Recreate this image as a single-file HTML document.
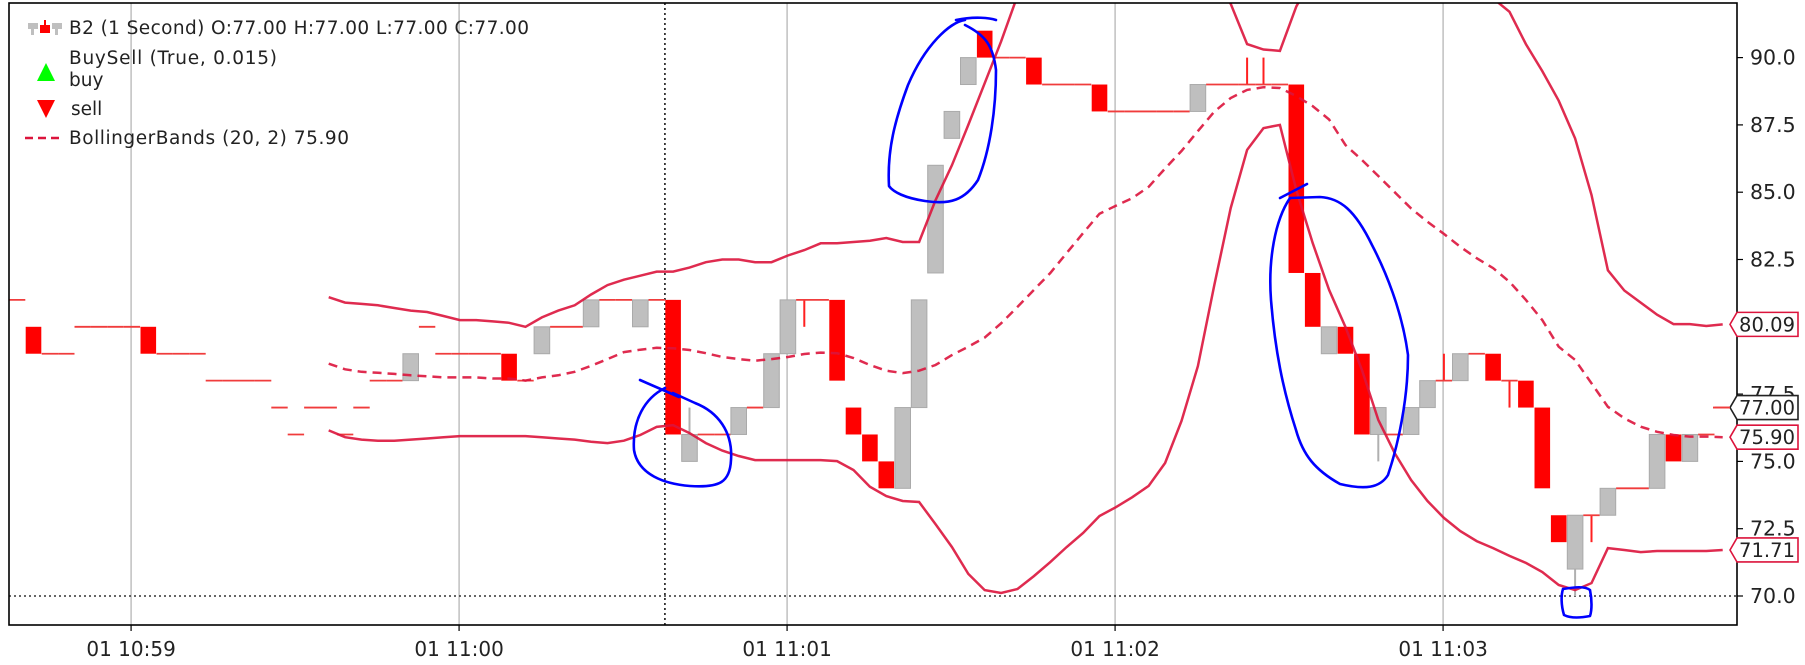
<!DOCTYPE html>
<html><head><meta charset="utf-8">
<style>
html,body{margin:0;padding:0;background:#fff;}
svg{display:block;font-family:"DejaVu Sans","Liberation Sans",sans-serif;}
</style></head>
<body>
<svg id="chart" width="1805" height="665" viewBox="0 0 1805 665" xmlns="http://www.w3.org/2000/svg">
  <defs><clipPath id="plotclip"><rect x="9" y="3" width="1728" height="622"/></clipPath></defs>
  <rect x="0" y="0" width="1805" height="665" fill="#fff"/>
  <g id="grid"></g>
  <g id="marks" clip-path="url(#plotclip)"></g>
  <g id="annot" fill="none" stroke="#0000ff" stroke-width="2.6" stroke-linecap="round" stroke-linejoin="round">
    <path d="M640,380 L679,397 M665,388 C645,398 632,420 634,450 C638,475 665,484 690,486 C720,488 730,482 731,460 C733,432 718,412 695,403 L673,393"/>
    <path d="M956,20 C975,16 990,18 996,20 M965,25 C985,35 993,45 996,70 C996,110 990,150 978,180 C965,200 950,205 925,201 C905,198 893,192 889,186 C887,150 895,120 908,85 C925,45 950,22 965,20"/>
    <path d="M1280,198 L1307,184 M1290,198 C1275,220 1268,260 1271,300 C1275,350 1283,390 1296,430 C1303,455 1315,470 1340,484 C1365,490 1380,488 1388,475 C1398,445 1408,400 1408,355 C1402,310 1385,270 1372,245 C1355,210 1340,198 1320,197 L1290,198"/>
    <path d="M1563,589 C1575,587 1585,586 1590,590 C1592,600 1592,610 1590,616 C1580,618 1570,618 1564,615 C1561,605 1561,595 1563,589"/>
  </g>
  <g id="axes"></g>
  <g id="legend">
    <g>
      <rect x="28" y="23" width="10" height="6" fill="#bfbfbf"/><rect x="31" y="29" width="3" height="6" fill="#bfbfbf"/>
      <rect x="40" y="25" width="10" height="8" fill="#ff0000"/><rect x="44" y="20" width="2" height="5" fill="#ff0000"/>
      <rect x="52" y="23" width="10" height="6" fill="#bfbfbf"/><rect x="55" y="29" width="3" height="6" fill="#bfbfbf"/>
      <text x="69" y="34" font-size="18.5" fill="#222" textLength="460">B2 (1 Second) O:77.00 H:77.00 L:77.00 C:77.00</text>
    </g>
    <g>
      <text x="69" y="64" font-size="18.5" fill="#222" textLength="208">BuySell (True, 0.015)</text>
    </g>
    <g>
      <polygon points="37,81 46,63 55,81" fill="#00ff00"/>
      <text x="69" y="86" font-size="18.5" fill="#222">buy</text>
    </g>
    <g>
      <polygon points="37,100 55,100 46,118" fill="#ff0000"/>
      <text x="71" y="115" font-size="18.5" fill="#222">sell</text>
    </g>
    <g>
      <line x1="25" y1="138" x2="62" y2="138" stroke="#dc143c" stroke-width="2.5" stroke-dasharray="8,5"/>
      <text x="69" y="144" font-size="18.5" fill="#222" textLength="280">BollingerBands (20, 2) 75.90</text>
    </g>
  </g>
</svg>
<script>
// ---- data ----
const opens  = [81,80,79,79,80,80,80,80,80,79,79,79,78,78,78,78,77,76,77,77,76,77,78,78,78,80,79,79,79,79,79,78,79,80,80,80,81,81,80,81,81,75,76,76,76,77,77,79,81,81,81,77,76,75,74,77,82,87,89,91,90,90,90,89,89,89,89,88,88,88,88,88,88,89,89,89,89,89,89,82,79,80,79,76,76,76,77,78,78,79,79,78,78,77,73,71,73,73,74,74,74,76,75,76,77];
const highs  = [81,80,79,79,80,80,80,80,80,79,79,79,78,78,78,78,77,76,77,77,76,77,78,78,79,80,79,79,79,79,79,78,80,80,80,81,81,81,81,81,81,77,76,76,77,77,79,81,81,81,81,77,76,75,77,81,86,88,90,91,90,90,90,89,89,89,89,88,88,88,88,88,89,89,89,90,90,89,89,82,80,80,79,77,76,77,78,79,79,79,79,78,78,77,73,73,73,74,74,74,76,76,76,76,77];
const lows   = [81,79,79,79,80,80,80,80,79,79,79,79,78,78,78,78,77,76,77,77,76,77,78,78,78,80,79,79,79,79,78,78,79,80,80,80,81,81,80,81,76,75,76,76,76,77,77,79,80,81,78,76,75,74,74,77,82,87,89,90,90,90,89,89,89,89,88,88,88,88,88,88,88,89,89,89,89,89,82,80,79,79,76,75,76,76,77,78,78,79,78,77,77,74,72,70,72,73,74,74,74,75,75,76,77];
const closes = [81,79,79,79,80,80,80,80,79,79,79,79,78,78,78,78,77,76,77,77,76,77,78,78,79,80,79,79,79,79,78,78,80,80,80,81,81,81,81,81,76,76,76,76,77,77,79,81,81,81,78,76,75,74,77,81,86,88,90,90,90,90,89,89,89,89,88,88,88,88,88,88,89,89,89,89,89,89,82,80,80,79,76,77,76,77,78,78,79,79,78,78,77,74,72,73,73,74,74,74,76,75,76,76,77];
const bandStart = 19;
const upperBand = [81.1,80.9,80.85,80.8,80.7,80.6,80.55,80.4,80.25,80.25,80.2,80.15,80.0,80.35,80.6,80.8,81.2,81.55,81.75,81.9,82.05,82.05,82.2,82.4,82.5,82.5,82.4,82.4,82.65,82.85,83.1,83.1,83.15,83.2,83.3,83.15,83.15,84.7,86.0,87.5,89.05,90.6,92.3,93,94,95,96,96.5,96.5,96,95.5,95,94.5,94,93,92.0,90.5,90.3,90.25,91.9,93,94,95,95.5,96,96,95.5,95,94,93.5,92.8,92.2,91.7,90.5,89.5,88.4,87.0,84.9,82.1,81.35,80.9,80.45,80.1,80.1,80.03,80.09];
const midBand = [78.63,78.42,78.33,78.29,78.25,78.2,78.16,78.12,78.12,78.12,78.08,78.08,78.0,78.12,78.2,78.33,78.55,78.8,79.06,79.15,79.22,79.2,79.14,79.02,78.88,78.8,78.74,78.8,78.88,78.99,79.04,79.02,78.84,78.58,78.37,78.28,78.37,78.58,78.95,79.26,79.6,80.13,80.74,81.37,82.0,82.74,83.48,84.2,84.5,84.78,85.2,85.88,86.53,87.27,87.99,88.5,88.8,88.9,88.87,88.57,88.2,87.7,86.75,86.2,85.6,85.0,84.4,83.9,83.45,82.97,82.55,82.18,81.67,81.0,80.25,79.26,78.77,77.9,77.03,76.6,76.29,76.1,75.98,75.92,75.92,75.9];
const lowerBand = [76.15,75.9,75.81,75.77,75.77,75.81,75.85,75.9,75.94,75.94,75.94,75.94,75.94,75.9,75.85,75.81,75.73,75.68,75.77,75.98,76.28,76.35,76.05,75.68,75.4,75.2,75.05,75.05,75.05,75.05,75.05,75.01,74.68,74.06,73.71,73.53,73.49,72.67,71.82,70.82,70.22,70.11,70.26,70.74,71.26,71.82,72.34,72.97,73.3,73.67,74.09,74.94,76.5,78.54,81.55,84.41,86.57,87.38,87.5,85.08,83.11,81.37,79.99,78.4,76.54,75.31,74.31,73.53,72.9,72.41,72.04,71.78,71.49,71.23,70.89,70.41,70.22,70.48,71.78,71.71,71.63,71.67,71.67,71.67,71.67,71.71];
const yTicks = [70.0,72.5,75.0,77.5,80.0,82.5,85.0,87.5,90.0];
const xTickLabels = ["01 10:59","01 11:00","01 11:01","01 11:02","01 11:03"];
const xTickSlots = [7.45,27.45,47.45,67.45,87.45];
const priceTags = [80.09,77.00,75.90,71.71];
const tagColors = ["#dc143c","#222","#dc143c","#dc143c"];
const hLineValue = 70.0;
const vLineSlot = 40;

// ---- scales ----
const SLOT = 16.4, X0 = 8.9;
function xLeft(i){ return X0 + SLOT*i; }
function xCenter(i){ return xLeft(i) + SLOT/2; }
function y(v){ return 596 - (v-70)*26.92; }

const NS = "http://www.w3.org/2000/svg";
function mk(tag, attrs, parent){ const e=document.createElementNS(NS,tag); for(const k in attrs) e.setAttribute(k,attrs[k]); parent.appendChild(e); return e; }

const grid = document.getElementById('grid');
const marks = document.getElementById('marks');
const axes = document.getElementById('axes');

xTickSlots.forEach((s,k)=>{
  const gx = xLeft(s);
  const l = mk('line',{x1:gx,y1:3,x2:gx,y2:625,stroke:'#b0b0b0','stroke-width':1.2},grid);
  
  
  const t = mk('line',{x1:gx,y1:625,x2:gx,y2:631,stroke:'#000','stroke-width':1.2},axes);
  
  
  const tx = mk('text',{x:gx,y:656,'font-size':20,'text-anchor':'middle',fill:'#222'},axes);
  tx.textContent = xTickLabels[k];
  
  
});

// crosshair lines
const hl = mk('line',{x1:9,y1:y(hLineValue),x2:1737,y2:y(hLineValue),stroke:'#333','stroke-width':1.5,'stroke-dasharray':'2,3'},marks);


const vl = mk('line',{x1:xLeft(vLineSlot),y1:3,x2:xLeft(vLineSlot),y2:625,stroke:'#333','stroke-width':1.8,'stroke-dasharray':'2,3'},marks);



// candles
for(let i=0;i<opens.length;i++){
  const o=opens[i],h=highs[i],l=lows[i],c=closes[i];
  const cx=xCenter(i), xl=xLeft(i)+0.4, w=SLOT-0.8;
  const up = c>o;
  const col = up ? '#bfbfbf' : '#ff0000';
  const wickCol = up ? '#b0b0b0' : '#ff2020';
  if(h>Math.max(o,c)){
    const wk=mk('line',{x1:cx,y1:y(h),x2:cx,y2:y(Math.max(o,c)),stroke:wickCol,'stroke-width':2},marks);
    
    
  }
  if(l<Math.min(o,c)){
    const wk=mk('line',{x1:cx,y1:y(Math.min(o,c)),x2:cx,y2:y(l),stroke:wickCol,'stroke-width':2},marks);
    
    
  }
  let el;
  if(o===c){
    el=mk('line',{x1:xLeft(i),y1:y(o),x2:xLeft(i)+SLOT,y2:y(o),stroke:'#f03c3c','stroke-width':1.8},marks);
  } else {
    el=mk('rect',{x:xl,y:y(Math.max(o,c)),width:w,height:Math.abs(y(o)-y(c)),fill:col,stroke:up?'#aaaaaa':'none','stroke-width':1},marks);
  }
  
  
}

// bands
function bandPath(arr){
  return arr.map((v,k)=>(k?'L':'M')+xCenter(bandStart+k).toFixed(1)+','+y(v).toFixed(1)).join(' ');
}
const up = mk('path',{d:bandPath(upperBand),fill:'none',stroke:'#dc143c','stroke-width':2.5,'stroke-opacity':0.9},marks);


const md = mk('path',{d:bandPath(midBand),fill:'none',stroke:'#dc143c','stroke-width':2.5,'stroke-dasharray':'9,6','stroke-opacity':0.9},marks);


const lo = mk('path',{d:bandPath(lowerBand),fill:'none',stroke:'#dc143c','stroke-width':2.5,'stroke-opacity':0.9},marks);



// frame
const fr = mk('rect',{x:9,y:3,width:1728,height:622,fill:'none',stroke:'#000','stroke-width':1.6},axes);



// y ticks
yTicks.forEach(v=>{
  const tk=mk('line',{x1:1737,y1:y(v),x2:1743,y2:y(v),stroke:'#000','stroke-width':1.2},axes);
  
  
  const t=mk('text',{x:1750,y:y(v)+7,'font-size':20.5,fill:'#222'},axes);
  t.textContent=v.toFixed(1);
  
  
});

// price tags
priceTags.forEach((v,k)=>{
  const yy=y(v), x0=1730;
  const g=mk('g',{},axes);
  
  
  mk('polygon',{points:`${x0},${yy} ${x0+7},${yy-12} ${x0+68},${yy-12} ${x0+68},${yy+12} ${x0+7},${yy+12}`,fill:'#fff',stroke:tagColors[k],'stroke-width':1.6},g);
  const t=mk('text',{x:x0+9,y:yy+7,'font-size':19.5,fill:'#222',textLength:56},g);
  t.textContent=v.toFixed(2);
});
const lastLine = mk('line',{x1:1713,y1:y(77),x2:1730,y2:y(77),stroke:'#f03c3c','stroke-width':1.8},axes);


</script>
</body></html>
